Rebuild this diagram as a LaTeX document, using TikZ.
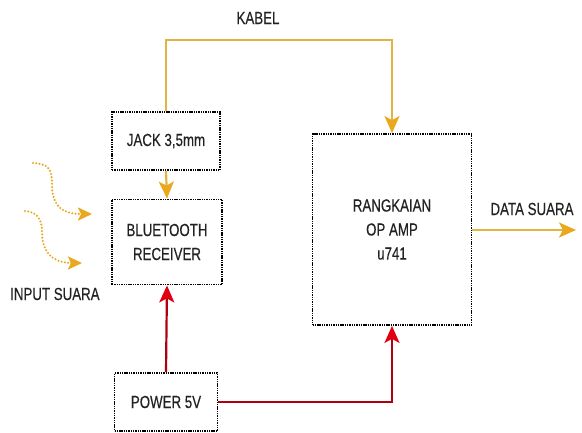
\documentclass[tikz,border=0pt]{standalone}
\usepackage{fontspec}
\setmainfont{Liberation Sans}[FakeStretch=0.76,FakeBold=0.3]
\usetikzlibrary{arrows.meta,calc}
\definecolor{gold}{HTML}{E8A820}
\definecolor{goldline}{HTML}{E2B444}
\definecolor{dred}{HTML}{B00010}
\definecolor{bred}{HTML}{E00010}
\definecolor{txt}{HTML}{222222}
\tikzset{
  blk/.style={draw=black, line width=1.8pt, dash pattern=on 1.4pt off 0.9pt, fill=white,
    inner sep=0pt, align=center, text=txt, font=\fontsize{17.5}{24}\selectfont},
  lbl/.style={text=txt, font=\fontsize{17.5}{20}\selectfont, inner sep=0pt},
  yarrow/.style={draw=goldline, line width=2.2pt, -{Stealth[length=17pt,width=15pt,inset=4pt,fill=gold,color=gold]}},
  rarrow/.style={draw=dred, line width=2.2pt, -{Stealth[length=17pt,width=15pt,inset=4pt,fill=bred,color=bred]}},
  wavy/.style={draw=gold, line width=2.3pt, line cap=round, dash pattern=on 0pt off 3.3pt,
    -{Stealth[length=14pt,width=13pt,inset=3pt,fill=gold,color=gold]}}
}
\begin{document}
\begin{tikzpicture}[x=1pt,y=-1pt]
\useasboundingbox (0,0) rectangle (582,432);
\node[blk, minimum width=108pt, minimum height=58pt] (jack) at (166,141) {JACK 3,5mm};
\node[blk, minimum width=110pt, minimum height=85pt] (bt) at (167,242) {BLUETOOTH\\RECEIVER};
\node[blk, minimum width=103pt, minimum height=58pt] (pow) at (166,402) {POWER 5V};
\node[blk, minimum width=159pt, minimum height=191pt] (amp) at (392,229.5) {RANGKAIAN\\OP AMP\\u741};
\node[lbl] (kabel) at (258,18) {KABEL};
\node[lbl] (data) at (532,209) {DATA SUARA};
\node[lbl, anchor=west] (input) at (10,294) {INPUT SUARA};
\coordinate (kt) at (0,40);
\coordinate (dout) at (576,230);
\coordinate (w1s) at (33,163);
\coordinate (w1e) at (92,214);
\coordinate (w2s) at (25,211);
\coordinate (w2e) at (82,263);
% yellow
\draw[yarrow] (jack.north) -- (jack.north |- kt) -| (amp.north);
\draw[yarrow] (jack.south) -- (bt.north);
\draw[yarrow] (amp.east |- dout) -- (dout);
% red
\draw[rarrow] (pow.north) -- (bt.south);
\draw[rarrow] (pow.east) -| (amp.south);
% wavy dotted input arrows
\draw[wavy] (w1s) .. controls (50,164) and (52,170) .. (52,185) .. controls (52,212) and (70,214) .. (w1e);
\draw[wavy] (w2s) .. controls (38,212) and (42,220) .. (42,232) .. controls (42,260) and (62,263) .. (w2e);
\end{tikzpicture}
\end{document}
